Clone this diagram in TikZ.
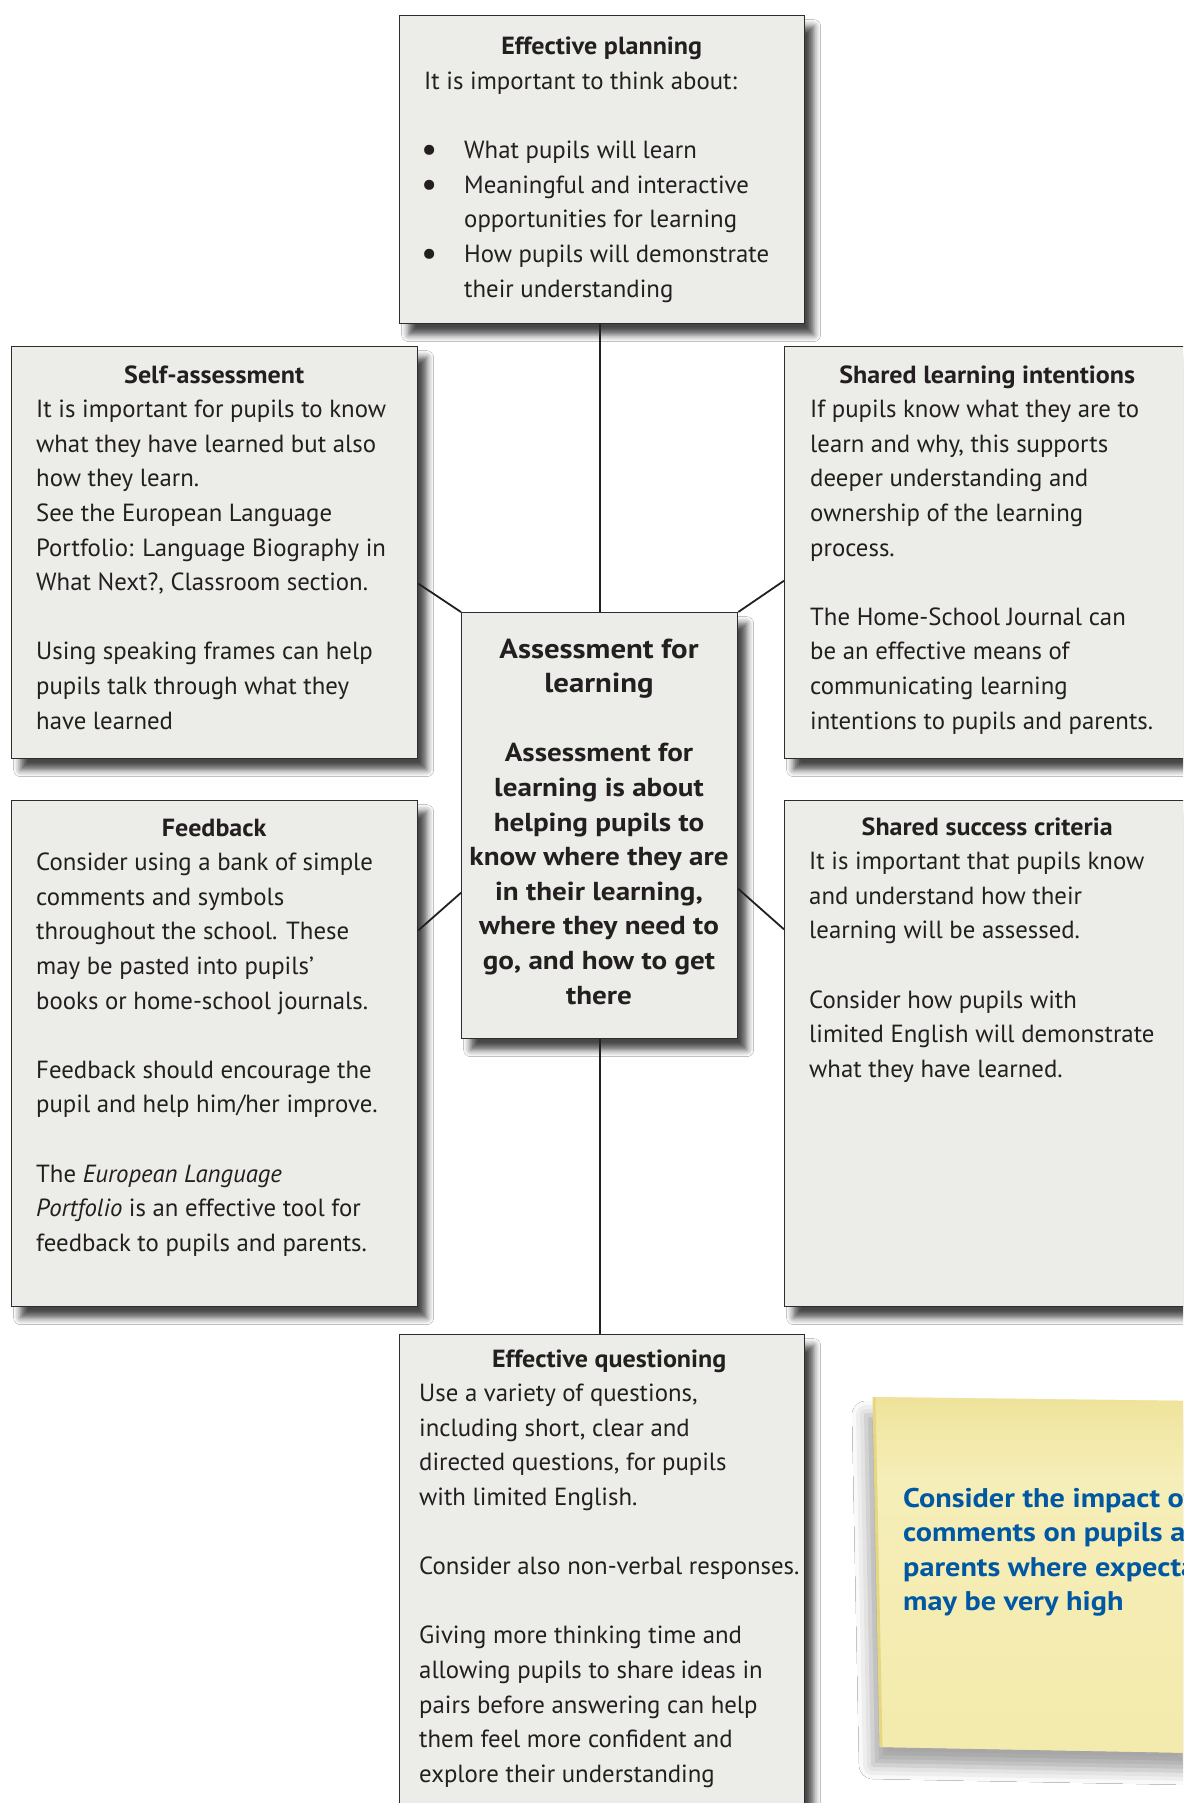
\documentclass[tikz,border=0pt]{standalone}
\usepackage{fontspec}
\setmainfont{PT Sans}[BoldFeatures={FakeStretch=1.05}]
\newfontfamily\widefam{PT Sans}[FakeStretch=1.12]
\usetikzlibrary{shadows.blur,calc}
\definecolor{boxfill}{RGB}{236,236,232}
\definecolor{boxline}{RGB}{45,45,45}
\definecolor{ink}{RGB}{35,31,32}
\definecolor{stickyA}{RGB}{238,226,152}
\definecolor{stickyB}{RGB}{246,238,184}
\definecolor{stickyC}{RGB}{243,234,172}
\definecolor{stickyedge}{RGB}{230,216,130}
\definecolor{notetext}{RGB}{0,87,163}
\newcommand\bodyfont{\fontsize{24.8}{34.6}\selectfont}
\newcommand\centrebody{\widefam\bfseries\fontsize{26}{34.6}\selectfont}
\newcommand\centretitle{\fontsize{27.5}{34.6}\selectfont}
\newcommand\panelbullet{\makebox[40pt][l]{\hspace{-3pt}\raisebox{-3pt}{\scalebox{1.45}{\textbullet}}}}
\tikzset{
  panel/.style={draw=boxline, line width=1.3pt, fill=boxfill, anchor=north west, inner sep=0pt,
    blur shadow={shadow xshift=9pt, shadow yshift=-11pt, shadow blur radius=7pt, shadow opacity=72}},
  paneltext/.style={anchor=base west, inner sep=0pt, text=ink, font=\bodyfont},
  link/.style={draw=ink, line width=2.2pt},
  slant/.style={draw=ink, line width=1.8pt},
}
\begin{document}
\begin{tikzpicture}[x=1pt,y=-1pt]
\useasboundingbox (0,0) rectangle (1183,1803);
\clip (0,0) rectangle (1183,1803);
\fill[white] (0,0) rectangle (1183,1803);

% sticky note
\coordinate (n1) at (874,1397);
\coordinate (n2) at (1200,1401);
\coordinate (n3) at (1200,1753);
\coordinate (n4) at (881,1747);
\fill[stickyB, blur shadow={shadow xshift=-8pt, shadow yshift=-18pt, shadow blur radius=14pt, shadow opacity=35}] (n1) -- (n2) -- (n3) -- (n4) -- cycle;
\begin{scope}
  \clip (n1) -- (n2) -- (n3) -- (n4) -- cycle;
  \shade[top color=stickyA, bottom color=stickyB] (860,1390) rectangle (1200,1480);
  \shade[top color=stickyB, bottom color=stickyC] (860,1480) rectangle (1200,1760);
\end{scope}
\draw[stickyedge, line width=3pt] (n1) -- (n4);
\node[anchor=base west, inner sep=0pt, text=notetext, font=\widefam\bfseries\fontsize{27}{34.5}\selectfont] (nt) at (903,1507)
  {\begin{tabular}[t]{@{}l@{}}Consider the impact of\\ comments on pupils and\\ parents where expectations\\ may be very high\end{tabular}};

% panels
\node[panel, minimum width=405pt, minimum height=308pt] (tp) at (399,15) {};
\node[panel, minimum width=406pt, minimum height=412pt] (sa) at (11,346) {};
\node[panel, minimum width=406pt, minimum height=412pt] (sli) at (784,346) {};
\node[panel, minimum width=406pt, minimum height=506pt] (fb) at (11,800) {};
\node[panel, minimum width=406pt, minimum height=506pt] (ssc) at (784,800) {};
\node[panel, minimum width=405pt, minimum height=520pt] (q) at (399,1334) {};
\node[panel, minimum width=276pt, minimum height=426pt] (c) at (461,612) {};

% texts
\node[paneltext] (tpt) at (424,55) {\begin{tabular}[t]{@{}l@{}}
\makebox[355pt][c]{\bfseries Effective planning}\\
It is important to think about:\\
\\
\panelbullet What pupils will learn\\
\panelbullet Meaningful and interactive\\
\hspace*{40pt}opportunities for learning\\
\panelbullet How pupils will demonstrate\\
\hspace*{40pt}their understanding
\end{tabular}};

\node[paneltext] (sat) at (36,383) {\begin{tabular}[t]{@{}l@{}}
\makebox[356pt][c]{\bfseries Self-assessment}\\
It is important for pupils to know\\
what they have learned but also\\
how they learn.\\
See the European Language\\
Portfolio: Language Biography in\\
What Next?, Classroom section.\\
\\
Using speaking frames can help\\
pupils talk through what they\\
have learned
\end{tabular}};

\node[paneltext] (slit) at (810,383) {\begin{tabular}[t]{@{}l@{}}
\makebox[354pt][c]{\bfseries Shared learning intentions}\\
If pupils know what they are to\\
learn and why, this supports\\
deeper understanding and\\
ownership of the learning\\
process.\\
\\
The Home-School Journal can\\
be an effective means of\\
communicating learning\\
intentions to pupils and parents.
\end{tabular}};

\node[paneltext] (fbt) at (36,836) {\begin{tabular}[t]{@{}l@{}}
\makebox[356pt][c]{\bfseries Feedback}\\
Consider using a bank of simple\\
comments and symbols\\
throughout the school. These\\
may be pasted into pupils’\\
books or home-school journals.\\
\\
Feedback should encourage the\\
pupil and help him/her improve.\\
\\
The \textit{European Language}\\
\textit{Portfolio} is an effective tool for\\
feedback to pupils and parents.
\end{tabular}};

\node[paneltext] (ssct) at (809,835) {\begin{tabular}[t]{@{}l@{}}
\makebox[356pt][c]{\bfseries Shared success criteria}\\
It is important that pupils know\\
and understand how their\\
learning will be assessed.\\
\\
Consider how pupils with\\
limited English will demonstrate\\
what they have learned.
\end{tabular}};

\node[paneltext] (qt) at (419,1367) {\begin{tabular}[t]{@{}l@{}}
\makebox[380pt][c]{\bfseries Effective questioning}\\
Use a variety of questions,\\
including short, clear and\\
directed questions, for pupils\\
with limited English.\\
\\
Consider also non-verbal responses.\\
\\
Giving more thinking time and\\
allowing pupils to share ideas in\\
pairs before answering can help\\
them feel more confident and\\
explore their understanding
\end{tabular}};

\node[anchor=base, inner sep=0pt, text=ink, font=\centrebody] (ct) at (599,658) {\begin{tabular}[t]{@{}c@{}}
{\centretitle Assessment for}\\
{\centretitle learning}\\
\\
Assessment for\\
learning is about\\
helping pupils to\\
know where they are\\
in their learning,\\
where they need to\\
go, and how to get\\
there
\end{tabular}};

% connectors
\draw[link] (c.north |- tp.south) -- (c.north);
\draw[link] (c.south) -- (c.south |- q.north);
\draw[slant] ($(sa.north east)!0.575!(sa.south east)$) -- (c.north west);
\draw[slant] ($(sli.north west)!0.568!(sli.south west)$) -- (c.north east);
\draw[slant] ($(c.north west)!0.657!(c.south west)$) -- ($(fb.north east)!0.257!(fb.south east)$);
\draw[slant] ($(c.north east)!0.648!(c.south east)$) -- ($(ssc.north west)!0.255!(ssc.south west)$);
\end{tikzpicture}
\end{document}
